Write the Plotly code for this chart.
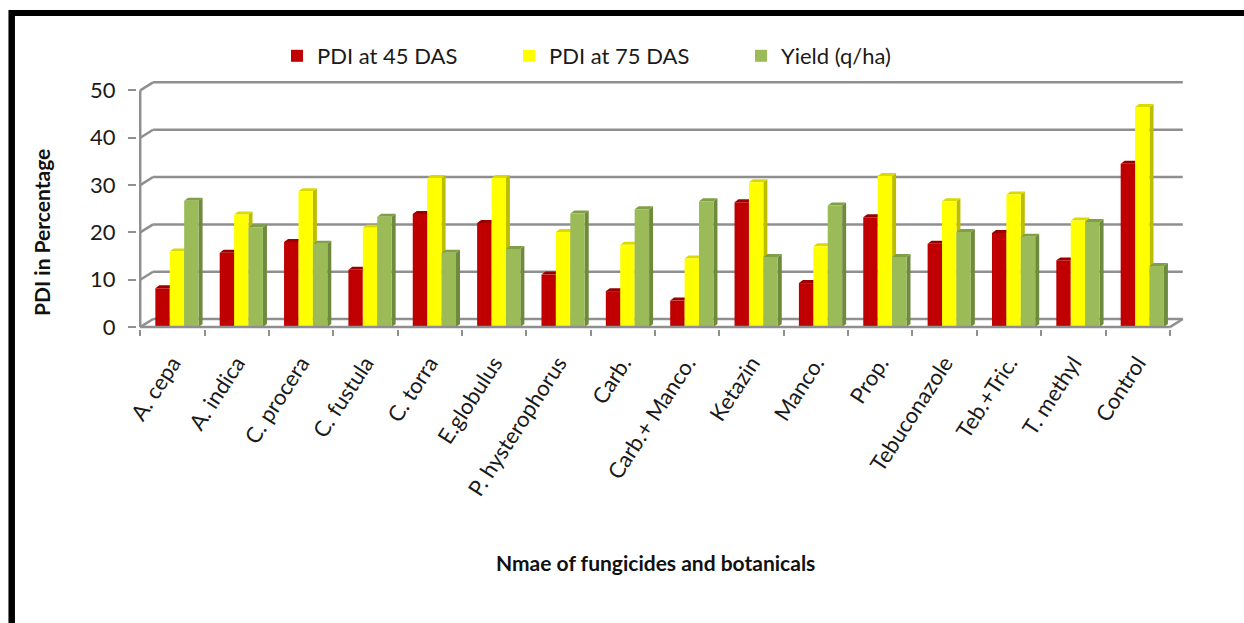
import plotly.graph_objects as go

# ---------------- data ----------------
categories = ["A. cepa", "A. indica", "C. procera", "C. fustula", "C. torra", "E.globulus",
              "P. hysterophorus", "Carb.", "Carb.+ Manco.", "Ketazin", "Manco.", "Prop.",
              "Tebuconazole", "Teb.+Tric.", "T. methyl", "Control"]
pdi_45 = [8.2, 15.7, 18.0, 12.1, 23.9, 22.0, 11.1, 7.6, 5.6, 26.4, 9.3, 23.2, 17.6, 19.9, 14.1, 34.5]
pdi_75 = [16.0, 23.8, 28.7, 21.0, 31.5, 31.5, 20.1, 17.4, 14.5, 30.6, 17.1, 31.9, 26.6, 28.0, 22.5, 46.5]
yield_qha = [26.7, 21.1, 17.6, 23.3, 15.7, 16.5, 24.0, 24.9, 26.6, 14.8, 25.7, 14.8, 20.1, 19.1, 22.2, 12.9]
series_names = ["PDI at 45 DAS", "PDI at 75 DAS", "Yield (q/ha)"]
y_ticks = [0, 10, 20, 30, 40, 50]
y_title = "PDI in Percentage"
x_title = "Nmae of fungicides and botanicals"

# ---------------- style ----------------
W, H = 1244, 623
ML, MR, MT, MB = 137, 58, 80, 294
X_RANGE = [-0.55, 15.75]
Y_RANGE = [-0.4, 52.2]
FONT = "Lato, 'Open Sans', sans-serif"
GRID = "#8f8f8f"
front_cols = ["#C00000", "#FFFF00", "#9BBB59"]
top_cols = ["#9A0000", "#DADA00", "#80A048"]
side_cols = ["#8A0000", "#BDBD00", "#6E8A3C"]
bar_w = 0.224
offsets = [-0.265, -0.041, 0.183]
wall_dx, wall_dy = 0.2, 1.7      # depth of the 3-D box (data units)
bar_dx, bar_dy = 0.062, 0.63     # depth of the bars (data units)

pw = W - ML - MR
ph = H - MT - MB


def px_x(px):
    return (px - ML) / pw


def px_y(py):
    return (H - MB - py) / ph


series = [pdi_45, pdi_75, yield_qha]
n = len(categories)
xs = list(range(n))

fig = go.Figure()
for s, vals in enumerate(series):
    fig.add_trace(go.Bar(
        x=xs, y=vals, name=series_names[s],
        offset=offsets[s], width=bar_w,
        marker=dict(color=front_cols[s], line=dict(width=0)),
    ))

shapes = []
line = dict(color=GRID, width=2.5)
left, right = -0.5, n - 0.5
# back wall gridlines and left-wall diagonals
for v in y_ticks:
    shapes.append(dict(type="line", xref="x", yref="y", layer="below",
                       x0=left + wall_dx, x1=right + wall_dx, y0=v + wall_dy, y1=v + wall_dy, line=line))
    shapes.append(dict(type="line", xref="x", yref="y", layer="below",
                       x0=left, x1=left + wall_dx, y0=v, y1=v + wall_dy, line=line))
# front vertical axis
shapes.append(dict(type="line", xref="x", yref="y", layer="below",
                   x0=left, x1=left, y0=0, y1=y_ticks[-1], line=line))
# floor right diagonal
shapes.append(dict(type="line", xref="x", yref="y", layer="below",
                   x0=right, x1=right + wall_dx, y0=0, y1=wall_dy, line=line))

# 3-D faces of bars
for i in xs:
    for s, vals in enumerate(series):
        v = vals[i]
        x0 = i + offsets[s]
        x1 = x0 + bar_w
        top = (f"M {x0},{v} L {x1},{v} L {x1 + bar_dx},{v + bar_dy} "
               f"L {x0 + bar_dx},{v + bar_dy} Z")
        side = (f"M {x1},0 L {x1},{v} L {x1 + bar_dx},{v + bar_dy} "
                f"L {x1 + bar_dx},{bar_dy} Z")
        shapes.append(dict(type="path", xref="x", yref="y", layer="below", path=side,
                           fillcolor=side_cols[s], line=dict(width=0)))
        shapes.append(dict(type="path", xref="x", yref="y", layer="below", path=top,
                           fillcolor=top_cols[s], line=dict(width=0)))

# front floor edge
shapes.append(dict(type="line", xref="x", yref="y", layer="above",
                   x0=left, x1=right, y0=0, y1=0, line=line))

# outer black frame (top and left)
shapes.append(dict(type="line", xref="paper", yref="paper",
                   x0=px_x(9), x1=px_x(1250), y0=px_y(13), y1=px_y(13),
                   line=dict(color="black", width=6)))
shapes.append(dict(type="line", xref="paper", yref="paper",
                   x0=px_x(11.7), x1=px_x(11.7), y0=px_y(10), y1=px_y(630),
                   line=dict(color="black", width=6.5)))

fig.update_layout(
    width=W, height=H,
    margin=dict(l=ML, r=MR, t=MT, b=MB, pad=0),
    paper_bgcolor="white", plot_bgcolor="white",
    font=dict(family=FONT, color="#1a1a1a", size=22),
    barmode="group",
    showlegend=True,
    legend=dict(orientation="h", x=px_x(277), y=px_y(56), xanchor="left", yanchor="middle",
                font=dict(size=22, family=FONT, color="#1a1a1a"),
                bgcolor="rgba(0,0,0,0)", entrywidth=187, entrywidthmode="pixels",
                traceorder="normal", itemclick=False),
    xaxis=dict(range=X_RANGE, tickmode="array", tickvals=xs, ticktext=categories,
               tickangle=-57, ticks="", showgrid=False, zeroline=False, showline=False,
               tickfont=dict(size=22), ticklabelstandoff=16,
               minor=dict(tickmode="array", tickvals=[i - 0.5 for i in range(n + 1)],
                          ticks="outside", ticklen=6, tickwidth=2, tickcolor=GRID,
                          showgrid=False)),
    yaxis=dict(range=Y_RANGE, tickmode="array", tickvals=y_ticks,
               ticks="outside", ticklen=8, tickwidth=2, tickcolor=GRID,
               showgrid=False, zeroline=False, showline=False,
               tickfont=dict(size=22), ticklabelstandoff=8),
    shapes=shapes,
    annotations=[
        dict(text=f"<b>{y_title}</b>", xref="paper", yref="paper", x=px_x(41), y=px_y(233),
             textangle=-90, showarrow=False, font=dict(size=21, family=FONT, color="#111"),
             xanchor="center", yanchor="middle"),
        dict(text=f"<b>{x_title}</b>", xref="paper", yref="paper", x=px_x(655), y=px_y(562),
             showarrow=False, font=dict(size=21, family=FONT, color="#111"),
             xanchor="center", yanchor="middle"),
    ],
)

fig.write_html("out.html", config={"displayModeBar": False},
               post_script="document.body.style.margin='0';document.body.style.padding='0';")
